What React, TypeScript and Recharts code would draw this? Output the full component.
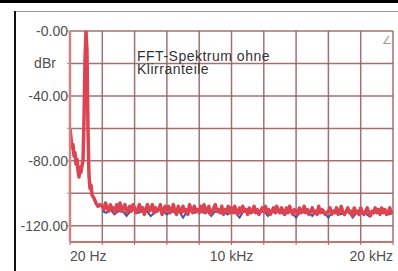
import * as React from 'react';
import { LineChart, Line, XAxis, YAxis, CartesianGrid } from 'recharts';

// spectrum below 2 kHz (test tone at ~1 kHz)
const lowFreqs = [0, 62, 124, 186, 248, 310, 371, 433, 495, 557, 619, 681, 743, 805, 867, 929, 990, 1052, 1114, 1176, 1238, 1300, 1362, 1486, 1610, 1734, 1857];
const lowLevels = [-60, -66, -72, -70, -77, -75, -82, -79, -86, -90, -84, -87, -83, -80, -55, -18, 0, -12, -61, -89, -97, -95, -101, -103, -106, -108, -107];

// noise floor, 100 Hz bins from 2 kHz to 20 kHz
const floorStart = 2000;
const floorStep = 100;
const floorLevels = [
  -108, -110, -106, -109, -111, -107, -110, -109, -112, -107,
  -110, -106, -111, -109, -107, -112, -110, -108, -111, -107,
  -109, -112, -110, -107, -111, -109, -113, -110, -107, -111,
  -110, -107, -112, -109, -111, -110, -107, -113, -110, -108,
  -111, -108, -112, -110, -107, -111, -113, -108, -110, -112,
  -108, -111, -110, -113, -107, -110, -112, -108, -111, -110,
  -112, -108, -111, -107, -112, -110, -108, -113, -111, -109,
  -107, -111, -110, -112, -108, -113, -110, -111, -108, -112,
  -109, -112, -108, -111, -113, -109, -112, -108, -111, -110,
  -113, -109, -112, -111, -108, -112, -110, -113, -111, -109,
  -111, -108, -112, -110, -113, -111, -109, -112, -108, -111,
  -112, -109, -111, -113, -109, -112, -108, -111, -113, -110,
  -111, -113, -109, -112, -111, -108, -112, -110, -113, -111,
  -109, -112, -111, -113, -108, -112, -110, -111, -113, -112,
  -111, -109, -113, -111, -112, -109, -113, -111, -108, -112,
  -113, -111, -109, -112, -111, -114, -109, -112, -111, -113,
  -109, -112, -113, -111, -109, -112, -114, -111, -112, -109,
  -112, -110, -113, -109, -112, -110, -113, -112, -109, -112,
  -111,
];

// second channel (mostly hidden under the first), 250 Hz bins
const blueStart = 2000;
const blueStep = 250;
const blueLevels = [
  -111, -112, -110, -113, -111, -111, -114, -111, -110, -112,
  -111, -111, -114, -112, -110, -111, -113, -111, -112, -111,
  -115, -111, -111, -112, -110, -112, -111, -114, -111, -112,
  -111, -113, -111, -112, -115, -111, -110, -112, -111, -112,
  -111, -114, -111, -112, -111, -113, -111, -112, -115, -111,
  -112, -111, -114, -111, -112, -112, -115, -111, -111, -113,
  -112, -111, -115, -112, -111, -112, -114, -111, -112, -112,
  -111, -113, -112,
];

const xTicks = [0, 2000, 4000, 6000, 8000, 10000, 12000, 14000, 16000, 18000, 20000];
const xLabels: Record<number, string> = { 0: '20 Hz', 10000: '10 kHz', 20000: '20 kHz' };
const yTicks = [-120, -100, -80, -60, -40, -20, 0];
const yLabels: Record<number, string> = { 0: '-0.00', [-20]: 'dBr', [-40]: '-40.00', [-80]: '-80.00', [-120]: '-120.00' };

const redData = [
  ...lowFreqs.map((f, i) => ({ f, v: lowLevels[i] })),
  ...floorLevels.map((v, i) => ({ f: floorStart + i * floorStep, v })),
];
const blueData = blueLevels.map((v, i) => ({ f: blueStart + i * blueStep, v }));

const font = '"Liberation Sans", Arial, sans-serif';

const XTick = (props: any) => {
  const { x, y, payload } = props;
  const label = xLabels[payload.value];
  if (!label) return null;
  const anchor = payload.value === 0 ? 'start' : payload.value === 20000 ? 'end' : 'middle';
  return (
    <text x={x} y={y + 16} textAnchor={anchor} fontSize={14} fontFamily={font} fill="#505050">
      {label}
    </text>
  );
};

const YTick = (props: any) => {
  const { x, y, payload } = props;
  const label = yLabels[payload.value];
  if (!label) return null;
  const isUnit = label === 'dBr';
  return (
    <text x={isUnit ? 45 : x + 1} y={y + 5} textAnchor={isUnit ? 'middle' : 'end'} fontSize={14} fontFamily={font} fill="#505050">
      {label}
    </text>
  );
};

export default function App() {
  return (
    <div style={{ position: 'absolute', left: 0, top: 0, width: 398, height: 271, background: '#fff' }}>
      <div style={{ position: 'absolute', left: 0, top: 0, width: 398, height: 3, background: '#000' }} />
      <div style={{ position: 'absolute', left: 14, top: 11, width: 384, height: 1, background: '#9a9a9a' }} />
      <div style={{ position: 'absolute', left: 14, top: 11, width: 2, height: 260, background: '#111' }} />
      <LineChart width={398} height={271} data={redData} margin={{ top: 31, right: 5, bottom: 0, left: 0 }}>
        <CartesianGrid stroke="#9a6262" strokeWidth={1.5} strokeOpacity={0.9} />
        <XAxis
          type="number"
          dataKey="f"
          domain={[0, 20000]}
          ticks={xTicks}
          interval={0}
          height={29}
          allowDataOverflow
          axisLine={{ stroke: '#c86a6a', strokeWidth: 1.5 }}
          tickLine={{ stroke: '#d05050' }}
          tickSize={3}
          tickMargin={0}
          tick={<XTick />}
        />
        <YAxis
          type="number"
          domain={[-130, 0]}
          ticks={yTicks}
          interval={0}
          width={70}
          allowDataOverflow
          axisLine={{ stroke: '#d88080', strokeWidth: 2.5 }}
          tickLine={{ stroke: '#999' }}
          tickSize={3}
          tickMargin={0}
          tick={<YTick />}
        />
        <Line data={blueData} dataKey="v" type="linear" stroke="#3a5aa8" strokeWidth={2} dot={false} isAnimationActive={false} />
        <Line dataKey="v" type="linear" stroke="#dc4452" strokeWidth={3.5} strokeLinejoin="round" dot={false} isAnimationActive={false} />
      </LineChart>
      <div style={{ position: 'absolute', left: 137, top: 50, fontSize: 14, lineHeight: '12.5px', letterSpacing: '0.5px', fontFamily: font, color: '#333', whiteSpace: 'pre' }}>
        {'FFT-Spektrum ohne\nKlirranteile'}
      </div>
      <div style={{ position: 'absolute', left: 382, top: 34, fontSize: 11, fontFamily: font, color: '#999' }}>∠</div>
    </div>
  );
}
